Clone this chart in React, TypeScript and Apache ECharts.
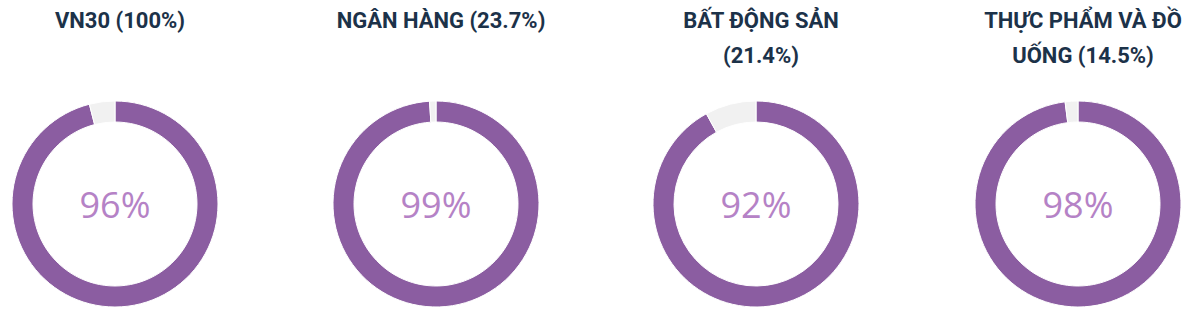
import React, { useEffect, useRef } from "react";
import * as echarts from "echarts";

const sectors: string[] = ["VN30 (100%)", "NGÂN HÀNG (23.7%)", "BẤT ĐỘNG SẢN\n(21.4%)", "THỰC PHẨM VÀ ĐỒ\nUỐNG (14.5%)"];
const percents: number[] = [96, 99, 92, 98];
const centersX: number[] = [115, 436, 756, 1078];

export default function App() {
  const ref = useRef<HTMLDivElement>(null);
  useEffect(() => {
    if (!ref.current) return;
    const chart = echarts.init(ref.current, undefined, { renderer: "svg" });
    const titles = sectors.map((s, i) => ({
      text: s,
      left: centersX[i],
      top: -2,
      textAlign: "center" as const,
      textStyle: {
        fontFamily: "Roboto",
        fontWeight: "bold" as const,
        fontSize: 22,
        color: "#1c3249",
        lineHeight: 35,
      },
    }));
    const series = percents.map((p, i) => ({
      type: "pie" as const,
      center: [centersX[i], 204],
      radius: [82, 103],
      startAngle: 90,
      clockwise: true,
      silent: true,
      labelLine: { show: false },
      data: [
        {
          value: p,
          name: "a",
          itemStyle: { color: "#8b5da1", borderColor: "#ffffff", borderWidth: 1 },
          label: {
            show: true,
            position: "center",
            formatter: `${p}%`,
            fontFamily: "Open Sans",
            fontSize: 36,
            color: "#b582c6",
          },
        },
        {
          value: 100 - p,
          name: "b",
          itemStyle: { color: "#f1f1f1", borderColor: "#ffffff", borderWidth: 1 },
          label: { show: false },
        },
      ],
    }));
    chart.setOption({
      animation: false,
      backgroundColor: "#ffffff",
      title: titles,
      series,
    });
    return () => chart.dispose();
  }, []);
  return <div ref={ref} style={{ position: "fixed", left: 0, top: 0, width: 1200, height: 320 }} />;
}
